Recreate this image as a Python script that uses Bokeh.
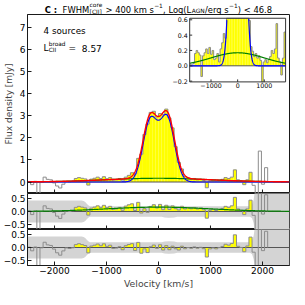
import numpy as np
from bokeh.plotting import figure
from bokeh.layouts import column
from bokeh.models import Range1d, Label, FixedTicker
from bokeh.embed import file_html
from bokeh.resources import INLINE

# ---------------- data ----------------
first_bin_edge = -2520          # km/s, left edge of first channel
bin_width = 60                  # km/s
flux = [0.02, -0.12, 0.03, -0.90, 0.00, 0.22, 0.12, 0.10, -0.04, -0.18,
        -0.27, -0.10, 0.02, 0.00, 0.03, 0.16, 0.20, 0.17, 0.14, -0.14,
        0.13, 0.17, 0.22, 0.16, 0.24, 0.15, 0.20, 0.08, 0.10, 0.16,
        0.05, 0.22, 0.30, 0.42, 0.36, 1.07, 1.26, 2.15, 2.62, 3.15,
        3.20, 2.95, 3.10, 3.05, 3.30, 2.90, 2.45, 1.60, 0.89, 0.59,
        0.25, 0.19, 0.12, 0.16, 0.10, 0.13, 0.07, -0.26, 0.05, 0.08,
        0.04, 0.08, 0.12, 0.20, 0.16, 0.22, 0.55, 0.10, 0.05, -0.12,
        0.10, 0.44, -0.15, -1.30, 1.40, -0.10, 0.65]
yellow_range = [-1620, 1800]    # velocity window shaded in yellow

core_amp = [2.75, 2.85]         # mJy, two-gaussian core fit
core_mu = [-160, 170]           # km/s
core_sigma = [140, 140]         # km/s
broad_amp = 0.17                # mJy, broad gaussian
broad_mu = 0
broad_sigma = 1000

noise_v = [-2520, -1480, -1440, -1410, -1380, -1350, -1320, 60, 120, 200, 300, 360,
           1760, 1800, 1830, 1860, 1880, 2520]
noise_rms = [0.43, 0.43, 0.41, 0.37, 0.30, 0.24, 0.20, 0.20, 0.23, 0.24, 0.23, 0.20,
             0.20, 0.26, 0.45, 0.90, 1.50, 1.50]

x_ticks = [-2000, -1000, 0, 1000, 2000]
x_tick_labels = ["−2000", "−1000", "0", "1000", "2000"]
flux_ticks = [0, 1, 2, 3, 4, 5, 6, 7]
res_ticks = [-0.5, 0.0, 0.5]
res_tick_labels = ["−0.5", "0.0", "0.5"]
inset_x_ticks = [-1000, 0, 1000]
inset_x_tick_labels = ["−1000", "0", "1000"]
inset_y_ticks = [-0.2, 0.0, 0.2, 0.4, 0.6]
inset_y_tick_labels = ["−0.2", "0.0", "0.2", "0.4", "0.6"]

sources_text = "4 sources"
l_broad_value = "8.57"
title_parts = [("C :", "bold"), ("  FWHM", "main"), (("core", "[CII]"), "supsub"),
               (" > 400 km s", "main"), ("−1", "sup"), (", Log(L", "main"),
               ("AGN", "sub"), ("/erg s", "main"), ("−1", "sup"), (") < 46.8", "main")]

# ---------------- layout / style ----------------
X0, X1 = -2520, 2520
flux_ylim = (-0.52, 7.58)
res_ylim = (-0.70, 0.70)
inset_xlim = (-1800, 1800)
inset_ylim = (-0.21, 0.62)
inset_target_x = (600, 2445)     # inset box inside the main panel (main data units)
inset_target_y = (4.53, 7.41)

FW, FH, RH, TH = 262, 179, 36, 14
BL, BR = 26, 1
FONT = "DejaVu Sans"
YEL = "#ffff00"
EDGE = "#8c8c8c"
ZERO = "#555555"
BAND = "#d4d4d4"
FRAME = "#1a1a1a"
TICK_PX = 4

# ---------------- derived quantities ----------------
flux = np.array(flux, dtype=float)
n = len(flux)
edges = first_bin_edge + bin_width * np.arange(n + 1)
centers = 0.5 * (edges[:-1] + edges[1:])


def gauss(v, a, mu, s):
    return a * np.exp(-0.5 * ((v - mu) / s) ** 2)


def core_model(v):
    return sum(gauss(v, a, m, s) for a, m, s in zip(core_amp, core_mu, core_sigma))


def broad_model(v):
    return gauss(v, broad_amp, broad_mu, broad_sigma)


res1 = flux - core_model(centers)
res2 = res1 - broad_model(centers)
ymask = (centers > yellow_range[0]) & (centers < yellow_range[1])
vf = np.linspace(X0, X1, 1009)


def step_xy(vals):
    xs = np.repeat(edges, 2)[1:-1]
    ys = np.repeat(vals, 2)
    xs = np.append(xs, edges[-1])
    ys = np.append(ys, 0.0)
    return xs, ys


xr = Range1d(X0, X1)


def make_fig(fh, ylim, show_xaxis):
    f = figure(frame_width=FW, frame_height=fh, x_range=xr, y_range=Range1d(*ylim),
               output_backend="svg", toolbar_location=None,
               x_axis_location="below" if show_xaxis else None,
               min_border_left=BL, min_border_right=BR, min_border_top=0, min_border_bottom=0,
               outline_line_color=FRAME, outline_line_width=1,
               background_fill_color="white", border_fill_color="white")
    f.xgrid.visible = False
    f.ygrid.visible = False
    for ax in f.axis:
        ax.major_tick_in = TICK_PX
        ax.major_tick_out = 0
        ax.minor_tick_line_color = None
        ax.axis_line_color = FRAME
        ax.major_tick_line_color = FRAME
        ax.major_label_text_font = FONT
        ax.major_label_text_font_size = "9px"
        ax.major_label_text_color = "black"
    f.yaxis.major_label_standoff = 2
    if show_xaxis:
        f.xaxis.ticker = FixedTicker(ticks=x_ticks)
        f.xaxis.major_label_overrides = dict(zip(x_ticks, x_tick_labels))
        f.xaxis.major_label_standoff = 1
    else:
        # inward x tick marks on the bottom edge (no labels on this panel)
        per_px = (ylim[1] - ylim[0]) / fh
        f.segment(x0=x_ticks, y0=[ylim[0]] * len(x_ticks), x1=x_ticks,
                  y1=[ylim[0] + TICK_PX * per_px] * len(x_ticks),
                  line_color=FRAME, line_width=1)
    return f


def yellow_quads(f, vals):
    m = ymask
    f.quad(left=edges[:-1][m], right=edges[1:][m],
           bottom=np.minimum(vals[m], 0), top=np.maximum(vals[m], 0),
           fill_color=YEL, line_color=None)


def add_label(f, x, y, text, size, style="normal", units="screen", align="left",
              baseline="alphabetic", xoff=0, yoff=0):
    f.add_layout(Label(x=x, y=y, x_units=units, y_units=units, text=text,
                       x_offset=xoff, y_offset=yoff,
                       text_font=FONT, text_font_size=f"{size}px", text_font_style=style,
                       text_color="black", text_baseline=baseline, text_align=align))


# DejaVu Sans advance widths (1/1000 em) for placing composed texts
W = {' ': 318, '(': 390, ')': 390, ',': 318, '.': 318, '/': 337, ':': 337, '<': 838,
     '=': 838, '>': 838, '[': 390, ']': 390, '−': 838, 'A': 684, 'C': 698, 'F': 575,
     'G': 775, 'H': 752, 'I': 295, 'L': 557, 'M': 863, 'N': 748, 'W': 989, 'a': 613,
     'b': 635, 'c': 550, 'd': 635, 'e': 615, 'g': 635, 'k': 579, 'm': 974, 'o': 612,
     'r': 411, 's': 521, 'u': 634}
for d in "0123456789":
    W[d] = 636
WB = {'C': 734, ' ': 348, ':': 400}


def tw(s, size, bold=False):
    tab = WB if bold else W
    return sum(tab.get(c, 620) for c in s) / 1000.0 * size


def put(f, x, y, txt, size, style="normal"):
    # SVG drops leading blanks: shift by their width and draw the stripped text
    lead = len(txt) - len(txt.lstrip(" "))
    add_label(f, x + tw(txt[:lead], size, style == "bold"), y, txt.strip(" "), size, style)


# ---------------- title strip ----------------
t = figure(frame_width=FW, frame_height=TH, x_range=Range1d(0, 1), y_range=Range1d(0, 1),
           output_backend="svg", toolbar_location=None, x_axis_location=None,
           y_axis_location=None, min_border_left=BL, min_border_right=BR,
           min_border_top=0, min_border_bottom=0, outline_line_color=None,
           background_fill_color="white", border_fill_color="white")
t.xgrid.visible = False
t.ygrid.visible = False
TS, TSS = 8.4, 5.9


def part_width(txt, kind):
    if kind == "bold":
        return tw(txt, TS, True)
    if kind == "main":
        return tw(txt, TS)
    if kind == "supsub":
        return max(tw(txt[0], TSS), tw(txt[1], TSS)) + 0.6
    return tw(txt, TSS) + 0.4


total = sum(part_width(tx_, k) for tx_, k in title_parts)
tx = FW / 2 - total / 2
ty = 4.5
for txt, kind in title_parts:
    if kind == "bold":
        put(t, tx, ty, txt, TS, "bold")
    elif kind == "main":
        put(t, tx, ty, txt, TS)
    elif kind == "sup":
        put(t, tx + 0.2, ty + 4.6, txt, TSS)
    elif kind == "sub":
        put(t, tx + 0.2, ty - 1.3, txt, TSS)
    else:
        put(t, tx + 0.3, ty + 4.6, txt[0], TSS)
        put(t, tx + 0.3, ty - 1.6, txt[1], TSS)
    tx += part_width(txt, kind)

# ---------------- main panel ----------------
p = make_fig(FH, flux_ylim, False)
p.yaxis.ticker = FixedTicker(ticks=flux_ticks)
p.yaxis.axis_label = "Flux density [mJy]"
p.yaxis.axis_label_text_font = FONT
p.yaxis.axis_label_text_font_size = "9px"
p.yaxis.axis_label_text_font_style = "normal"
p.yaxis.axis_label_standoff = 3

yellow_quads(p, flux)
p.line([X0, X1], [0, 0], line_color=ZERO, line_width=1)
sx, sy = step_xy(flux)
p.line(sx, sy, line_color=EDGE, line_width=1)
p.line(vf, broad_model(vf), line_color="#008000", line_width=1.2)
p.line(vf, core_model(vf), line_color="#0000ff", line_width=1.2)
p.line(vf, core_model(vf) + broad_model(vf), line_color="#ff0000", line_width=1.4)

# texts inside the main panel
put(p, 16, FH - 16.9, sources_text, 8.8)
lx = 16
ly = FH - 33.8
put(p, lx, ly, "L", 9)
lx += tw("L", 9) + 0.3
put(p, lx, ly + 4.0, "broad", 5.8)
put(p, lx, ly - 1.7, "CII", 5.8)
lx += tw("broad", 5.8) + tw(" ", 9)
put(p, lx, ly, "=", 9)
lx += tw("=  ", 9)
put(p, lx, ly, l_broad_value, 9)

# ---------------- inset: a zoomed view mapped into a box of the main panel ----------------
ix0, ix1 = inset_xlim
iy0, iy1 = inset_ylim
sxp = (inset_target_x[1] - inset_target_x[0]) / (ix1 - ix0)   # main units per inset unit
syp = (inset_target_y[1] - inset_target_y[0]) / (iy1 - iy0)


def to_main_x(v):
    return inset_target_x[0] + (np.asarray(v, dtype=float) - ix0) * sxp


def to_main_y(v):
    return inset_target_y[0] + (np.asarray(v, dtype=float) - iy0) * syp


bx0, bx1 = to_main_x(ix0), to_main_x(ix1)
by0, by1 = to_main_y(iy0), to_main_y(iy1)
p.quad(left=bx0, right=bx1, bottom=by0, top=by1, fill_color="white", line_color=None)

inside = (edges[1:] > ix0) & (edges[:-1] < ix1)
ql = np.clip(edges[:-1], ix0, ix1)
qr = np.clip(edges[1:], ix0, ix1)
qm = inside & ymask
p.quad(left=to_main_x(ql[qm]), right=to_main_x(qr[qm]),
       bottom=to_main_y(np.clip(np.minimum(flux[qm], 0), iy0, iy1)),
       top=to_main_y(np.clip(np.maximum(flux[qm], 0), iy0, iy1)),
       fill_color=YEL, line_color=None)
p.line(to_main_x([ix0, ix1]), to_main_y([0, 0]), line_color=ZERO, line_width=1)
idx = np.where(inside)[0]
ie = np.append(ql[idx], qr[idx[-1]])
ixs = np.repeat(ie, 2)[1:-1]
iys = np.clip(np.repeat(flux[idx], 2), iy0, iy1)
p.line(to_main_x(ixs), to_main_y(iys), line_color=EDGE, line_width=1)
vi = np.linspace(ix0, ix1, 721)
p.line(to_main_x(vi), to_main_y(broad_model(vi)), line_color="#008000", line_width=1.2)
cb = core_model(vi)
cb = np.where(cb > iy1, np.nan, cb)
p.line(to_main_x(vi), to_main_y(cb), line_color="#0000ff", line_width=1.2)
p.quad(left=bx0, right=bx1, bottom=by0, top=by1, fill_color=None,
       line_color="#333333", line_width=1)

# inset ticks (inward) and labels
ppx = FW / (X1 - X0)                               # px per main x unit
ppy = FH / (flux_ylim[1] - flux_ylim[0])           # px per main y unit
tl = 2.5
nxt, nyt = len(inset_x_ticks), len(inset_y_ticks)
p.segment(x0=to_main_x(inset_x_ticks), y0=[by0] * nxt, x1=to_main_x(inset_x_ticks),
          y1=[by0 + tl / ppy] * nxt, line_color="#333333", line_width=1)
p.segment(x0=[bx0] * nyt, y0=to_main_y(inset_y_ticks), x1=[bx0 + tl / ppx] * nyt,
          y1=to_main_y(inset_y_ticks), line_color="#333333", line_width=1)
for v, lab in zip(inset_x_ticks, inset_x_tick_labels):
    add_label(p, float(to_main_x(v)), float(by0), lab, 6.3, units="data", align="center",
              baseline="top", yoff=-1.5)
for v, lab in zip(inset_y_ticks, inset_y_tick_labels):
    add_label(p, float(bx0), float(to_main_y(v)), lab, 6.3, units="data", align="right",
              baseline="middle", xoff=-2)


# ---------------- residual panels ----------------
def res_panel(vals, show_xaxis, with_broad):
    f = make_fig(RH, res_ylim, show_xaxis)
    f.yaxis.ticker = FixedTicker(ticks=res_ticks)
    f.yaxis.major_label_overrides = dict(zip(res_ticks, res_tick_labels))
    nv = np.array(noise_v, dtype=float)
    nr = np.array(noise_rms, dtype=float)
    f.varea(x=nv, y1=-nr, y2=nr, fill_color=BAND)
    yellow_quads(f, vals)
    f.line([X0, X1], [0, 0], line_color=ZERO, line_width=1)
    xs, ys = step_xy(vals)
    f.line(xs, ys, line_color=EDGE, line_width=1)
    if with_broad:
        f.line(vf, broad_model(vf), line_color="#008000", line_width=1.2)
    return f


r1 = res_panel(res1, False, True)
r2 = res_panel(res2, True, False)
r2.xaxis.axis_label = "Velocity [km/s]"
r2.xaxis.axis_label_text_font = FONT
r2.xaxis.axis_label_text_font_size = "9.3px"
r2.xaxis.axis_label_text_font_style = "normal"
r2.xaxis.axis_label_standoff = 1

layout = column(t, p, r1, r2, spacing=0)
open("out.html", "w").write(file_html(layout, INLINE))
